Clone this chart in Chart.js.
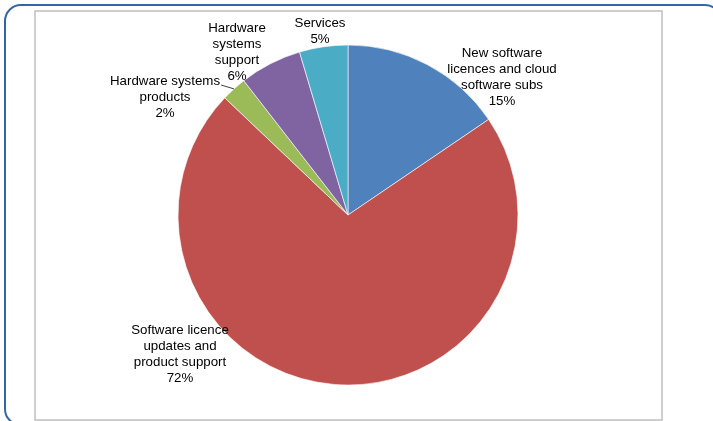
<!DOCTYPE html>
<html>
<head>
<meta charset="utf-8">
<script src="https://cdn.jsdelivr.net/npm/chart.js@4"></script>
<style>
   body { margin: 0; background: #fff; }
   canvas { display: block; }
</style>
</head>
<body>
<canvas id="revenueSplit" width="713" height="421"></canvas>
<script>
// Revenue split by segment
const categories = [
   ['New software', 'licences and cloud', 'software subs'],
   ['Software licence', 'updates and', 'product support'],
   ['Hardware systems', 'products'],
   ['Hardware', 'systems', 'support'],
   ['Services']
];
const shares = [15.5, 71.6, 2.4, 5.9, 4.6];
const shareLabels = ['15%', '72%', '2%', '6%', '5%'];
const sliceColors = ['#4F81BD', '#C0504D', '#9BBB59', '#8064A2', '#4BACC6'];

// label block centres, relative to the pie centre
const labelOffsets = [
   { dx: 154, dy: -138 },
   { dx: -168, dy: 139 },
   { dx: -183, dy: -118 },
   { dx: -111, dy: -163 },
   { dx: -28, dy: -184 }
];
const lineHeight = 16;
const labelFont = '13.3px "Liberation Sans", Arial, sans-serif';

const framePlugin = {
   id: 'frame',
   beforeDraw(chart) {
      const c = chart.ctx;
      c.save();
      // outer rounded frame (runs past the right and bottom edges)
      c.strokeStyle = '#3366a8';
      c.lineWidth = 2;
      c.beginPath();
      c.roundRect(5, 5, 716, 420, 16);
      c.stroke();
      // inner chart border
      c.strokeStyle = '#bfbfbf';
      c.lineWidth = 1.5;
      c.strokeRect(35, 11, 627, 409);
      c.restore();
   }
};

const labelPlugin = {
   id: 'sliceLabels',
   afterDraw(chart) {
      const c = chart.ctx;
      const arcs = chart.getDatasetMeta(0).data;
      c.save();
      c.font = labelFont;
      c.fillStyle = '#000';
      c.textAlign = 'center';
      c.textBaseline = 'middle';
      arcs.forEach((arc, i) => {
         const lines = categories[i].concat(shareLabels[i]);
         const cx = arc.x + labelOffsets[i].dx;
         const cy = arc.y + labelOffsets[i].dy;
         const top = cy - (lines.length - 1) * lineHeight / 2;
         lines.forEach((line, j) => c.fillText(line, cx, top + j * lineHeight));
         if (i === 2) {
            // leader line for the small slice
            const mid = (arc.startAngle + arc.endAngle) / 2;
            const ex = arc.x + Math.cos(mid) * arc.outerRadius;
            const ey = arc.y + Math.sin(mid) * arc.outerRadius;
            const w = c.measureText(categories[i][0]).width;
            c.strokeStyle = '#000';
            c.lineWidth = 0.75;
            c.beginPath();
            c.moveTo(cx + w / 2 + 1, top + 4);
            c.lineTo(ex, ey);
            c.stroke();
         }
      });
      c.restore();
   }
};

new Chart(document.getElementById('revenueSplit').getContext('2d'), {
   type: 'pie',
   data: {
      labels: categories.map(l => l.join(' ')),
      datasets: [{
         data: shares,
         backgroundColor: sliceColors,
         borderColor: '#ffffff',
         borderWidth: 0.6,
         radius: 170
      }]
   },
   options: {
      responsive: false,
      animation: false,
      layout: {
         padding: { left: 30, right: 47, top: 40, bottom: 31 }
      },
      plugins: {
         legend: { display: false },
         tooltip: { enabled: false }
      }
   },
   plugins: [framePlugin, labelPlugin]
});
</script>
</body>
</html>
